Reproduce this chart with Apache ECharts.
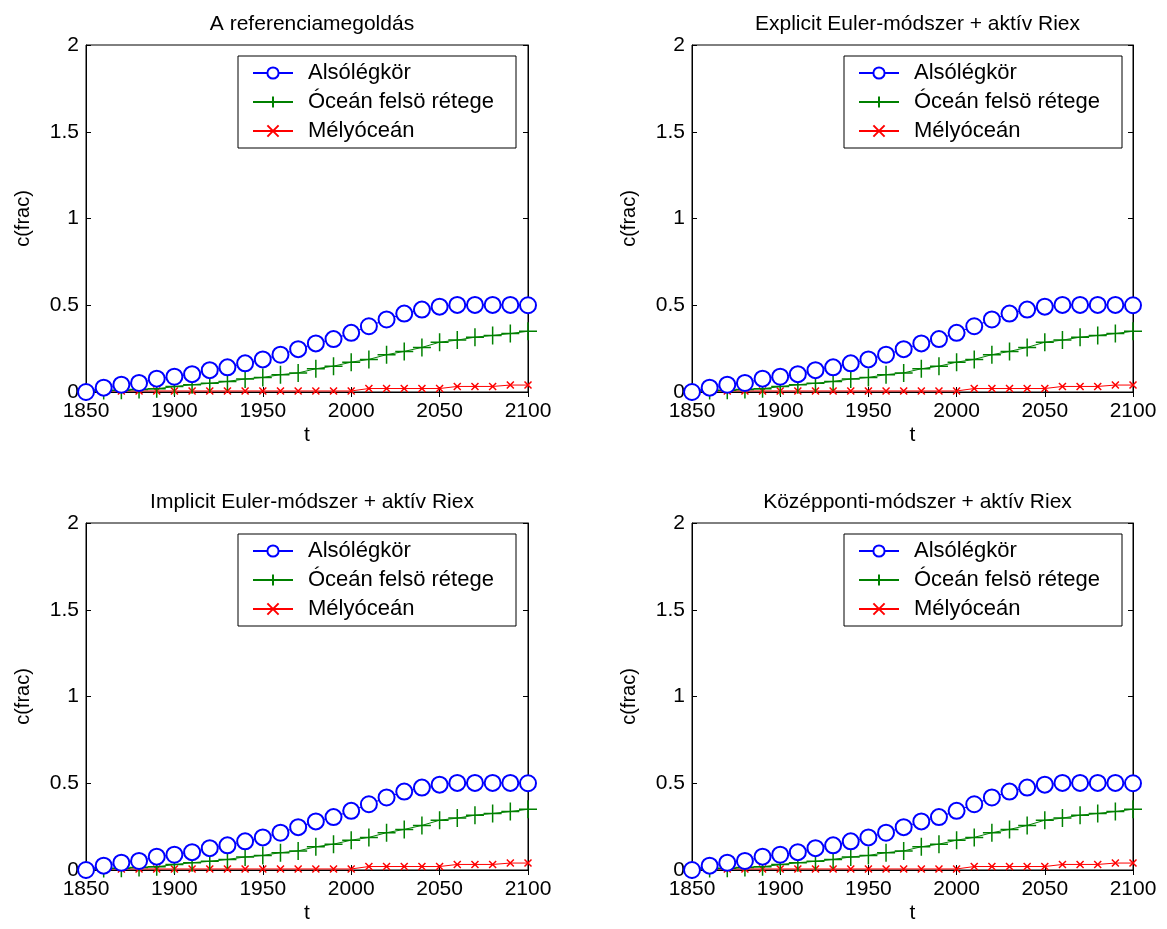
<!DOCTYPE html>
<html>
<head>
<meta charset="utf-8">
<script src="https://cdn.jsdelivr.net/npm/echarts@6/dist/echarts.min.js"></script>
<style>
html,body{margin:0;padding:0;background:#fff;}
#c{width:1167px;height:929px;}
</style>
</head>
<body>
<div id="c"></div>
<script>
var years = [1850,1860,1870,1880,1890,1900,1910,1920,1930,1940,1950,1960,1970,1980,1990,2000,2010,2020,2030,2040,2050,2060,2070,2080,2090,2100];
var atmosphere = [0,0.025,0.042,0.052,0.077,0.088,0.103,0.126,0.142,0.165,0.188,0.215,0.247,0.28,0.305,0.341,0.379,0.418,0.452,0.475,0.492,0.502,0.502,0.502,0.502,0.5];
var upperOcean = [0,0.008,0.01,0.015,0.019,0.031,0.042,0.05,0.061,0.075,0.084,0.1,0.11,0.134,0.149,0.172,0.188,0.215,0.234,0.257,0.287,0.299,0.316,0.326,0.337,0.35];
var deepOcean = [0,0.006,0.006,0.006,0.006,0.006,0.006,0.006,0.006,0.006,0.006,0.006,0.006,0.006,0.006,0.006,0.02,0.02,0.02,0.02,0.02,0.032,0.032,0.032,0.04,0.04];
var titles = ['A referenciamegoldás','Explicit Euler-módszer + aktív Riex','Implicit Euler-módszer + aktív Riex','Középponti-módszer + aktív Riex'];
var seriesNames = ['Alsólégkör','Óceán felsö rétege','Mélyóceán'];
var xTicks = [1850,1900,1950,2000,2050,2100];
var yTicks = [0,0.5,1,1.5,2];

var FONT = 'Liberation Sans, Arial, sans-serif';
var grids = [
  {left:86, top:45, width:442, height:347},
  {left:692, top:45, width:441, height:347},
  {left:86, top:523, width:442, height:347},
  {left:692, top:523, width:441, height:347}
];
var colors = ['#0000ff','#008000','#ff0000'];
var symbols = ['emptyCircle','path://M0,-1L0,1M-1,0L1,0','path://M-1,-1L1,1M-1,1L1,-1'];
var symSizes = [16,18,7];
var dataSets = [atmosphere, upperOcean, deepOcean];

var option = {
  backgroundColor:'#fff',
  animation:false,
  title:[], grid:[], xAxis:[], yAxis:[], series:[], legend:[], graphic:[]
};

grids.forEach(function(g,i){
  option.grid.push({left:g.left, top:g.top, width:g.width, height:g.height, show:true, borderColor:'#000', borderWidth:1, containLabel:false});
  option.title.push({text:titles[i], left:g.left + g.width/2, top:g.top - 36, textAlign:'center',
    textStyle:{fontFamily:FONT, fontSize:21, fontWeight:'normal', color:'#000'}});
  var common = {type:'value', min:1850, max:2100, interval:50, gridIndex:i, splitLine:{show:false},
    axisLine:{show:true, lineStyle:{color:'#000', width:1}},
    axisTick:{show:true, inside:true, length:5, lineStyle:{color:'#000'}}};
  option.xAxis.push(Object.assign({}, common, {position:'bottom', name:'t', nameLocation:'middle', nameGap:33,
    nameTextStyle:{fontFamily:FONT, fontSize:21, color:'#000'},
    axisLabel:{fontFamily:FONT, fontSize:21, color:'#000', margin:9, formatter:function(v){return String(v);}}}));
  option.xAxis.push(Object.assign({}, common, {position:'top', axisLabel:{show:false}}));
  var ycommon = {type:'value', min:0, max:2, interval:0.5, gridIndex:i, splitLine:{show:false},
    axisLine:{show:true, lineStyle:{color:'#000', width:1}},
    axisTick:{show:true, inside:true, length:5, lineStyle:{color:'#000'}}};
  option.yAxis.push(Object.assign({}, ycommon, {position:'left', name:'c(frac)', nameLocation:'middle', nameGap:53, nameRotate:90,
    nameTextStyle:{fontFamily:FONT, fontSize:20, color:'#000'},
    axisLabel:{fontFamily:FONT, fontSize:21, color:'#000', margin:7}}));
  option.yAxis.push(Object.assign({}, ycommon, {position:'right', axisLabel:{show:false}}));

  for (var s=0;s<3;s++){
    var d = years.map(function(y,k){ return [y, dataSets[s][k]]; });
    var item = s===0 ? {color:colors[s], borderColor:colors[s], borderWidth:0.8} : {color:colors[s], borderColor:colors[s], borderWidth:1.5};
    option.series.push({
      type:'line', name:seriesNames[s], xAxisIndex:2*i, yAxisIndex:2*i, data:d,
      symbol:symbols[s], symbolSize:symSizes[s], showSymbol:true,
      lineStyle:{color:colors[s], width:1, type:'solid'},
      itemStyle:item,
      z: 3 - s
    });
  }
  var lx = g.left + 152, ly = g.top + 11;
  option.graphic.push({type:'rect', shape:{x:lx, y:ly, width:278, height:92},
    style:{fill:'#fff', stroke:'#000', lineWidth:1}, z:50});
  option.legend.push({orient:'vertical', left:lx + 14, top:ly + 5, padding:0, itemGap:5,
    itemWidth:40, itemHeight:14, data:seriesNames, selectedMode:false, z:60,
    textStyle:{fontFamily:FONT, fontSize:22, color:'#000', lineHeight:24, padding:[0,0,0,10]}});
});

var chart = echarts.init(document.getElementById('c'), null, {renderer:'canvas'});
chart.setOption(option);
</script>
</body>
</html>
